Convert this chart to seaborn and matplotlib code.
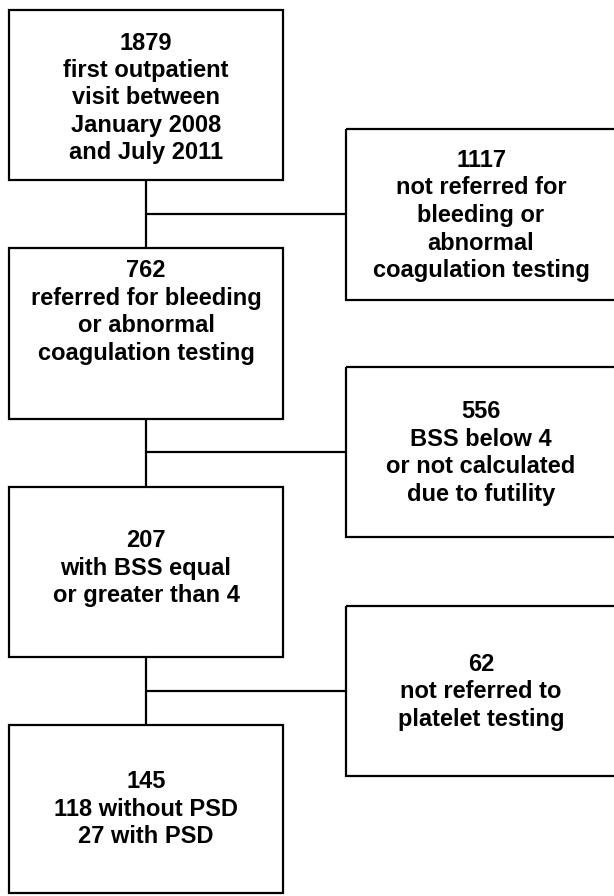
import matplotlib
matplotlib.use("Agg")
import matplotlib.pyplot as plt
from matplotlib.patches import Rectangle
import seaborn as sns

# flow counts
main_counts = [1879, 762, 207, 145]
main_labels = [
    "first outpatient\nvisit between\nJanuary 2008\nand July 2011",
    "referred for bleeding\nor abnormal\ncoagulation testing",
    "with BSS equal\nor greater than 4",
    "118 without PSD\n27 with PSD",
]
excluded_counts = [1117, 556, 62]
excluded_labels = [
    "not referred for\nbleeding or\nabnormal\ncoagulation testing",
    "BSS below 4\nor not calculated\ndue to futility",
    "not referred to\nplatelet testing",
]

# layout in pixels (y grows downward)
main_x = (9, 283)
main_y = [(10, 180), (248, 419), (487, 657), (725, 893)]
main_text_y = [98, 312, 568, 809]
side_x = (346, 618)
side_y = [(129, 300), (367, 537), (606, 776)]
branch_y = [214, 452, 691]
spine_x = 146

sns.set_theme(style="white")
plt.rcParams["font.family"] = ["Liberation Sans", "DejaVu Sans"]

W, H = 614, 896
fig = plt.figure(figsize=(W / 100, H / 100), dpi=100)
ax = fig.add_axes([0, 0, 1, 1])
ax.set_xlim(0, W)
ax.set_ylim(H, 0)
ax.axis("off")

lw = 1.6
txt = dict(ha="center", va="center", fontsize=17, fontweight="bold",
           color="black", linespacing=1.25)

for (y0, y1), n, lab, ty in zip(main_y, main_counts, main_labels, main_text_y):
    ax.add_patch(Rectangle((main_x[0], y0), main_x[1] - main_x[0], y1 - y0,
                           fill=False, edgecolor="black", lw=lw))
    ax.text((main_x[0] + main_x[1]) / 2, ty, f"{n}\n{lab}", **txt)

for (y0, y1), n, lab in zip(side_y, excluded_counts, excluded_labels):
    ax.add_patch(Rectangle((side_x[0], y0), side_x[1] - side_x[0], y1 - y0,
                           fill=False, edgecolor="black", lw=lw, clip_on=True))
    ax.text((side_x[0] + 614) / 2 + 1, (y0 + y1) / 2 + 1, f"{n}\n{lab}", **txt)

# connectors
for i, by in enumerate(branch_y):
    ax.plot([spine_x, spine_x], [main_y[i][1], main_y[i + 1][0]], color="black", lw=lw)
    ax.plot([spine_x, side_x[0]], [by, by], color="black", lw=lw)

fig.savefig("out.png", dpi=100, facecolor="white")
